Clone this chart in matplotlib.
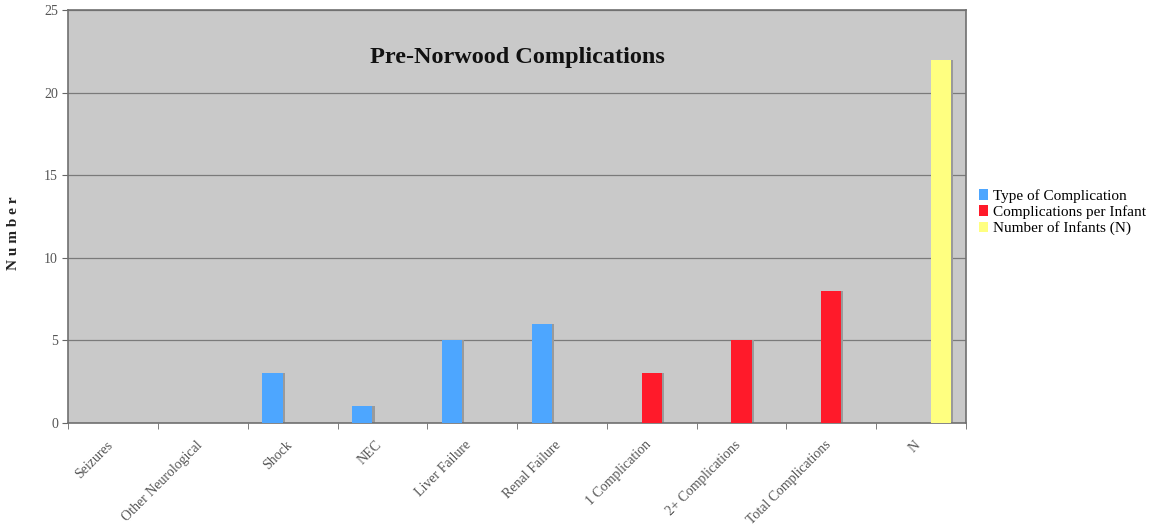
import matplotlib.pyplot as plt
import numpy as np

categories = ["Seizures", "Other Neurological", "Shock", "NEC", "Liver Failure",
              "Renal Failure", "1 Complication", "2+ Complications",
              "Total Complications", "N"]
type_of_complication = [0, 0, 3, 1, 5, 6, 0, 0, 0, 0]
complications_per_infant = [0, 0, 0, 0, 0, 0, 3, 5, 8, 0]
number_of_infants = [0, 0, 0, 0, 0, 0, 0, 0, 0, 22]
series_names = ["Type of Complication", "Complications per Infant", "Number of Infants (N)"]
colors = ["#4da6ff", "#ff1a2a", "#ffff80"]

plt.rcParams['font.family'] = ['Liberation Serif', 'DejaVu Serif']

fig = plt.figure(figsize=(11.72, 5.30), dpi=100)
ax = fig.add_axes([0.0584, 0.2019, 0.7656, 0.7792])
ax.set_facecolor("#c9c9c9")

x = np.arange(len(categories)) + 0.5
w = 0.225
all_series = [type_of_complication, complications_per_infant, number_of_infants]
for i, (vals, name, c) in enumerate(zip(all_series, series_names, colors)):
    pos = x + (i - 1) * w
    # small drop shadow like the original
    ax.bar(pos + 0.025, vals, width=w, color="#9a9a9a", zorder=2)
    ax.bar(pos, vals, width=w, color=c, label=name, zorder=3)

ax.set_xlim(0, len(categories))
ax.set_ylim(0, 25)
ax.set_yticks([0, 5, 10, 15, 20, 25])
ax.yaxis.grid(True, color="#7a7a7a", linewidth=0.9, zorder=1)
ax.set_axisbelow(True)

# tick marks at category borders, labels (no marks) a little left of centre
ax.set_xticks(np.arange(len(categories) + 1), minor=True)
ax.set_xticks(x - 0.08)
ax.set_xticklabels(categories, rotation=45, ha='right', rotation_mode='anchor',
                   fontsize=10, color="#555555")
ax.tick_params(axis='x', which='major', length=0, pad=11)
ax.tick_params(axis='x', which='minor', length=4, color="#666666")
ax.tick_params(axis='y', length=4, color="#666666", labelsize=10, labelcolor="#555555")

for s in ax.spines.values():
    s.set_color("#707070")
    s.set_linewidth(1.2)

ax.text(0.5, 0.886, "Pre-Norwood Complications", transform=ax.transAxes,
        ha='center', va='center', fontsize=17.5, fontweight='bold', color="#111111")
ax.set_ylabel("N u m b e r", fontsize=11, fontweight='bold', color="#222222")
ax.yaxis.set_label_coords(-0.054, 0.46)

leg = ax.legend(loc='center left', bbox_to_anchor=(1.003, 0.51), frameon=False,
                fontsize=11, handlelength=0.6, handleheight=0.7, handletextpad=0.3,
                labelspacing=0.15, borderaxespad=0.3)

fig.savefig("out.png", dpi=100)
